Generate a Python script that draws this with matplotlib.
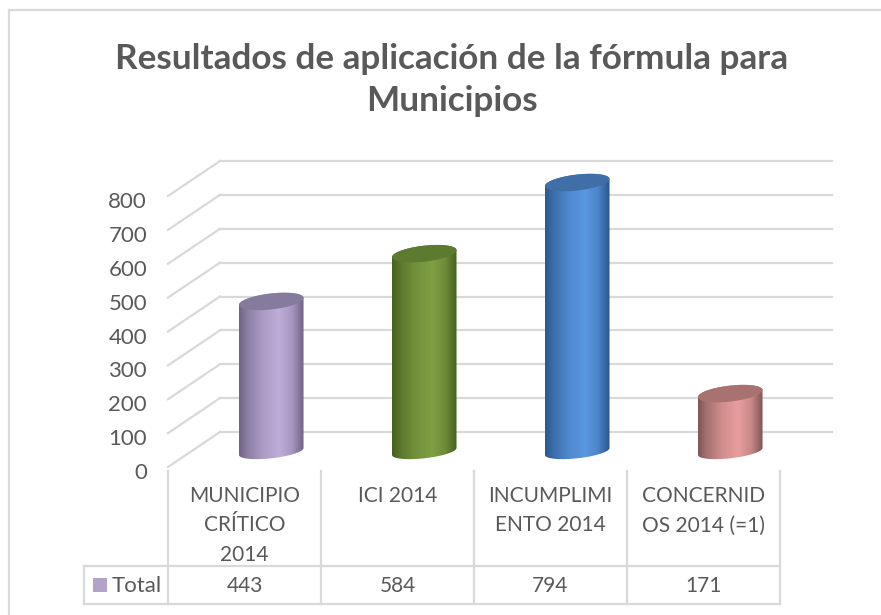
import numpy as np
import matplotlib
matplotlib.use('Agg')
import matplotlib.pyplot as plt
from matplotlib.patches import Polygon, Rectangle

# datos
categorias = ['MUNICIPIO\nCRÍTICO\n2014', 'ICI 2014', 'INCUMPLIMI\nENTO 2014', 'CONCERNID\nOS 2014 (=1)']
valores = [443, 584, 794, 171]
ticks = [0, 100, 200, 300, 400, 500, 600, 700, 800]
titulo = 'Resultados de aplicación de la fórmula para\nMunicipios'
serie = 'Total'

color_borde = ['#6f6385', '#46601f', '#2c5689', '#7f5555']
color_medio = ['#bdadd8', '#7f9f44', '#5a98e2', '#e89e9e']
color_tapa = ['#867b9c', '#5c7a30', '#3f6fa6', '#a87270']

W, H = 881, 615
plt.rcParams['font.family'] = ['Lato', 'DejaVu Sans']
gris = '#595959'
linea = '#d9d9d9'

fig = plt.figure(figsize=(W / 100, H / 100), dpi=100)


def fx(x):
    return x / W


def fy(y):
    return 1 - y / H


px_x = 153.0
px_y = 271.0 / 800
dx = 52 / px_x
dy = 35 / px_y

# el eje va de la esquina frontal del piso hacia arriba, con aire sobre 800
tope = (467 - 130) / px_y
ax = fig.add_axes([fx(168), fy(467), fx(780) - fx(168), fy(130) - fy(467)])
ax.axis('off')

# pared del fondo y piso
for t in ticks:
    ax.plot([-0.5 + dx, 3.5 + dx], [t + dy, t + dy], color=linea, lw=1.6, clip_on=False, zorder=1)
    ax.plot([-0.5, -0.5 + dx], [t, t + dy], color=linea, lw=1.6, clip_on=False, zorder=1)
    fig.text(fx(147), fy(467 - t * px_y + 6), str(t), ha='right', va='center', fontsize=16, color=gris)

# cilindros
ancho = 64.5 / px_x
a = ancho / 2
b = 8.0 / px_y
k = 3.5 / px_y
th = np.linspace(0, 2 * np.pi, 90)
stops = [0, 0.12, 0.35, 0.62, 0.82, 1]
peso = [0, 0.35, 0.75, 1, 0.7, 0]
base = 15.5 / px_y

for i, v in enumerate(valores):
    cx = i + 0.5 * dx + 0.005
    y0 = base
    y1 = base + v
    t_low = np.linspace(np.pi, 2 * np.pi, 40)
    xs = cx + a * np.cos(t_low)
    ys_low = y0 + k * np.cos(t_low) + b * np.sin(t_low) * 0.85
    t_up = np.linspace(0, np.pi, 40)
    xs2 = cx + a * np.cos(t_up)
    ys_up = y1 + k * np.cos(t_up) + b * np.sin(t_up)
    verts = np.column_stack([np.r_[xs, xs2], np.r_[ys_low, ys_up]])
    cuerpo = Polygon(verts, closed=True, facecolor='none', edgecolor='none')
    ax.add_patch(cuerpo)

    c0 = np.array(matplotlib.colors.to_rgb(color_borde[i]))
    c1 = np.array(matplotlib.colors.to_rgb(color_medio[i]))
    u = np.linspace(0, 1, 128)
    w = np.interp(u, stops, peso)[None, :, None]
    grad = c0[None, None, :] * (1 - w) + c1[None, None, :] * w
    im = ax.imshow(grad, extent=[cx - a, cx + a, y0 - 2 * b - k, y1 + 2 * b + k], aspect='auto',
                   zorder=3, interpolation='bilinear')
    im.set_clip_path(cuerpo)

    tapa = Polygon(np.column_stack([cx + a * np.cos(th), y1 + k * np.cos(th) + b * np.sin(th)]),
                   closed=True, facecolor=color_tapa[i], edgecolor='none', zorder=4, clip_on=False)
    ax.add_patch(tapa)

ax.set_xlim(-0.5, 3.5)
ax.set_ylim(0, tope)


# lineas en pixeles: marco y tabla
def linea_px(x0, y0, x1, y1, lw=1.6, c=linea):
    fig.add_artist(plt.Line2D([fx(x0), fx(x1)], [fy(y0), fy(y1)], color=c, lw=lw, transform=fig.transFigure))


linea_px(9, 10, W, 10)
linea_px(9, 10, 9, H)

bordes = [168 + 153 * j for j in range(5)]
for x in bordes:
    linea_px(x, 471, x, 604)
linea_px(84, 566, 780, 566)
linea_px(84, 604, 780, 604)
linea_px(84, 566, 84, 604)

for i, cat in enumerate(categorias):
    cx = (bordes[i] + bordes[i + 1]) / 2
    fig.text(fx(cx), fy(486), cat, ha='center', va='top', fontsize=15, color=gris, linespacing=1.59)
    fig.text(fx(cx), fy(586), str(valores[i]), ha='center', va='center', fontsize=15, color=gris)

fig.add_artist(Rectangle((fx(93), fy(592)), 14 / W, 14 / H, facecolor='#b3a3c9', edgecolor='none',
                         transform=fig.transFigure))
fig.text(fx(112), fy(586), serie, ha='left', va='center', fontsize=16, color=gris)

fig.text(fx(452), fy(80), titulo, ha='center', va='center', fontsize=25.3, fontweight='bold',
         color=gris, linespacing=1.35)

fig.savefig('out.png', dpi=100)
